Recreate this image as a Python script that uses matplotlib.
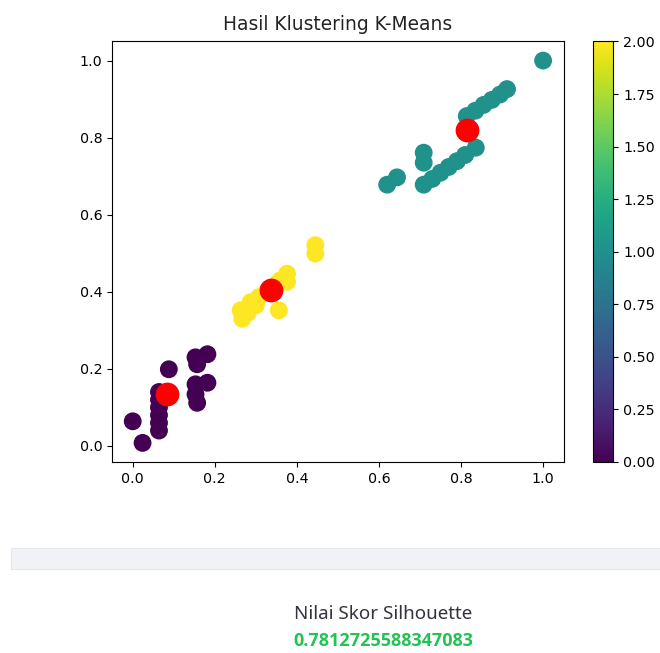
import matplotlib
matplotlib.use("Agg")
import matplotlib.pyplot as plt
from matplotlib.patches import Rectangle

# cluster 0 (purple)
x0 = [0.0, 0.024, 0.088, 0.064, 0.064, 0.064, 0.064, 0.064, 0.064,
      0.153, 0.182, 0.157, 0.153, 0.182, 0.153, 0.157]
y0 = [0.064, 0.008, 0.199, 0.04, 0.06, 0.08, 0.10, 0.12, 0.14,
      0.23, 0.238, 0.212, 0.16, 0.164, 0.134, 0.112]
# cluster 2 (yellow)
x2 = [0.445, 0.445, 0.267, 0.263, 0.28, 0.287, 0.30, 0.307, 0.326, 0.34,
      0.352, 0.36, 0.376, 0.376, 0.356]
y2 = [0.521, 0.499, 0.33, 0.352, 0.345, 0.373, 0.365, 0.386, 0.40, 0.41,
      0.421, 0.43, 0.447, 0.426, 0.352]
# cluster 1 (teal)
x1 = [0.62, 0.644, 0.709, 0.709, 0.709, 0.73, 0.75, 0.77, 0.79, 0.81, 0.836,
      0.814, 0.835, 0.855, 0.875, 0.895, 0.912, 1.0]
y1 = [0.678, 0.697, 0.761, 0.735, 0.678, 0.693, 0.709, 0.724, 0.739, 0.755, 0.774,
      0.856, 0.87, 0.885, 0.898, 0.912, 0.926, 1.0]

centers_x = [0.084, 0.814, 0.336]
centers_y = [0.134, 0.819, 0.404]

silhouette = 0.7812725588347083

xs = x0 + x1 + x2
ys = y0 + y1 + y2
labels = [0] * len(x0) + [1] * len(x1) + [2] * len(x2)

fig = plt.figure(figsize=(6.6, 6.53), dpi=100)
ax = fig.add_axes([0.170, 0.2925, 0.684, 0.644])
cax = fig.add_axes([0.8985, 0.2925, 0.031, 0.644])

sc = ax.scatter(xs, ys, c=labels, cmap="viridis", s=140)
ax.scatter(centers_x, centers_y, c="red", s=260)
ax.set_title("Hasil Klustering K-Means", fontsize=13.4, pad=8, color="#222222")
ax.tick_params(labelsize=10.3)
cb = fig.colorbar(sc, cax=cax)
cb.ax.tick_params(labelsize=10.3)

# streamlit-like bottom area
fig.patches.append(Rectangle((0.0167, 0.129), 0.99, 0.032, transform=fig.transFigure,
                             facecolor="#f0f2f6", edgecolor="#e4e7ec", lw=0.8))
fig.text(0.581, 0.052, "Nilai Skor Silhouette", ha="center", va="baseline",
         fontsize=13.5, color="#31333f", family="Noto Sans")
fig.text(0.581, 0.010, str(silhouette), ha="center", va="baseline",
         fontsize=13.0, color="#21c354", fontweight="bold", family="Open Sans")

fig.savefig("out.png", dpi=100)
